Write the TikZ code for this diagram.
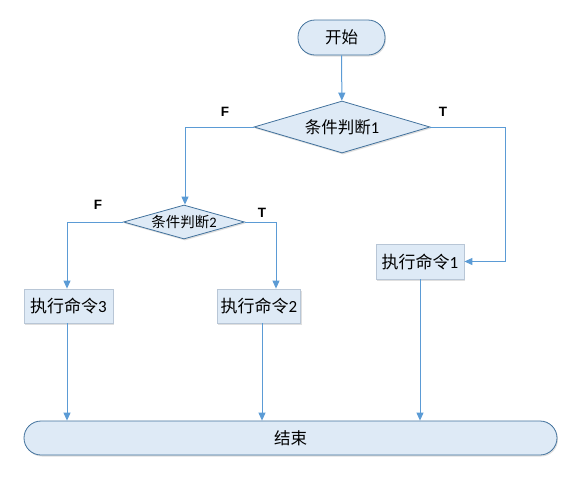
\documentclass[tikz,border=0pt]{standalone}
\usepackage{fontspec}
\setmainfont{Carlito}
\newfontfamily\cjk{Noto Sans CJK SC}
\newfontfamily\lbl{Liberation Sans}
\usetikzlibrary{shapes.geometric,arrows.meta,shadows}
\definecolor{fillb}{HTML}{DEEAF6}
\definecolor{edgeb}{HTML}{41719C}
\definecolor{edgeg}{HTML}{B8C6D6}
\definecolor{linec}{HTML}{5B9BD5}
\begin{document}
\begin{tikzpicture}[x=1pt,y=-1pt,
  term/.style={draw=edgeb,fill=fillb,rounded corners=17pt,line width=0.8pt,
    drop shadow={shadow xshift=1pt,shadow yshift=-1.5pt,fill=black!25,opacity=0.5},
    font=\fontsize{16.5}{18}\selectfont},
  dec/.style={draw=edgeb,fill=fillb,diamond,line width=0.8pt,inner sep=0pt,
    drop shadow={shadow xshift=1pt,shadow yshift=-1.5pt,fill=black!25,opacity=0.5}},
  proc/.style={draw=edgeg,fill=fillb,line width=0.8pt,minimum width=89pt,minimum height=34pt,
    drop shadow={shadow xshift=1pt,shadow yshift=-1.5pt,fill=black!25,opacity=0.5},
    font=\fontsize{17}{19}\selectfont},
  conn/.style={draw=linec,line width=1pt,-{Triangle[length=8pt,width=7pt]}},
  tf/.style={font=\lbl\bfseries\fontsize{13.5}{15}\selectfont}
]
\useasboundingbox (0,0) rectangle (579,488);
\node[term,minimum width=87pt,minimum height=35pt] (start) at (341.5,37.5) {\cjk 开始};
\node[dec,shape aspect=3.4,minimum width=176pt,minimum height=52pt,font=\fontsize{16.5}{18}\selectfont] (d1) at (342,127) {{\cjk 条件判断}1};
\node[dec,shape aspect=3.5,minimum width=121pt,minimum height=34pt,font=\fontsize{14.5}{16}\selectfont] (d2) at (184,222) {{\cjk 条件判断}2};
\node[proc] (p3) at (68.5,306) {{\cjk 执行命令}3};
\node[proc,minimum width=80pt] (p2) at (259,306) {{\cjk 执行命令}2};
\node[proc,minimum width=88pt,minimum height=35pt] (p1) at (420,261.5) {{\cjk 执行命令}1};
\node[term,minimum width=533pt,minimum height=34pt] (end) at (290.5,438) {\cjk 结束};
\node[tf] (f1) at (225,112) {F};
\node[tf] (t1) at (443,112) {T};
\node[tf] (f2) at (98,205) {F};
\node[tf] (t2) at (262,213) {T};
\coordinate (a1) at (185,127);
\coordinate (a2) at (505,127);
\coordinate (a3) at (67,222);
\coordinate (a4) at (276,222);
\draw[conn] (start) -- (d1);
\draw[conn] (d1.west) -- (a1) -- (d2.north -| a1);
\draw[conn] (d1.east) -- (a2) |- (p1.east);
\draw[conn] (d2.west) -- (a3) -- (p3.north -| a3);
\draw[conn] (d2.east) -- (a4) -- (p2.north -| a4);
\draw[conn] (p3.south -| a3) -- (end.north -| a3);
\draw[conn] (p2.south -| 262,0) -- (end.north -| 262,0);
\draw[conn] (p1.south) -- (end.north -| p1.south);
\end{tikzpicture}
\end{document}
